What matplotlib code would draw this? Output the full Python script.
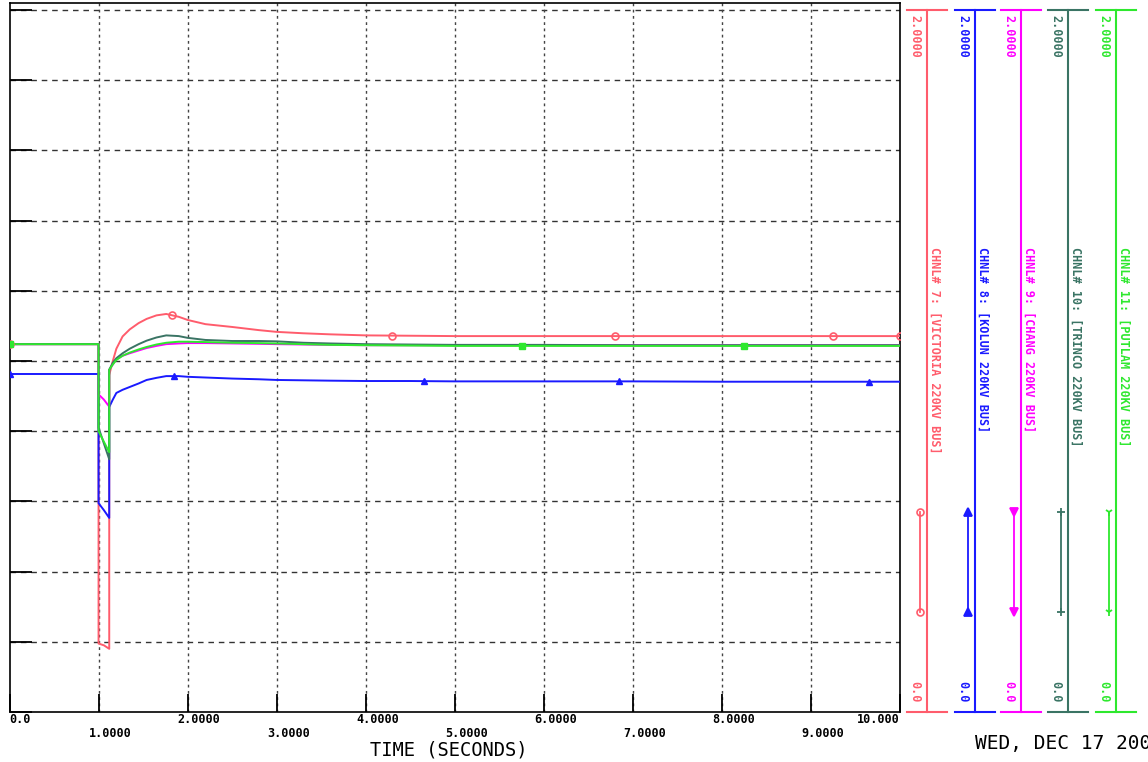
import numpy as np
import matplotlib
matplotlib.use('Agg')
import matplotlib.pyplot as plt

plt.rcParams['font.family'] = ['DejaVu Sans Mono', 'DejaVu Sans']

# time points (s), step changes written as repeated times
t = [0.0, 1.0, 1.0, 1.06, 1.12, 1.12, 1.16, 1.2, 1.27, 1.35, 1.45, 1.54, 1.65, 1.76, 1.9,
     2.0, 2.2, 2.5, 2.8, 3.0, 3.3, 3.6, 4.0, 4.5, 5.0, 6.0, 7.0, 8.0, 9.0, 10.0]

# bus voltages (pu)
v_ch7 = [1.048, 1.048, 0.195, 0.19, 0.18, 0.96, 1.0, 1.035, 1.07, 1.09, 1.108, 1.12, 1.13, 1.134, 1.126,
         1.117, 1.105, 1.097, 1.088, 1.083, 1.079, 1.076, 1.073, 1.072, 1.071, 1.071, 1.071, 1.071, 1.071, 1.071]
v_ch8 = [0.963, 0.963, 0.595, 0.575, 0.553, 0.869, 0.89, 0.909, 0.918, 0.926, 0.936, 0.946, 0.952, 0.957, 0.957,
         0.955, 0.953, 0.95, 0.948, 0.946, 0.945, 0.944, 0.943, 0.943, 0.942, 0.942, 0.942, 0.941, 0.941, 0.941]
v_ch9 = [1.048, 1.048, 0.905, 0.89, 0.87, 0.975, 0.99, 1.005, 1.015, 1.022, 1.03, 1.037, 1.043, 1.048, 1.05,
         1.051, 1.051, 1.05, 1.049, 1.048, 1.047, 1.046, 1.045, 1.045, 1.045, 1.045, 1.045, 1.045, 1.045, 1.045]
v_ch10 = [1.048, 1.048, 0.81, 0.765, 0.72, 0.975, 0.995, 1.008, 1.022, 1.035, 1.048, 1.058, 1.067, 1.073, 1.071,
          1.066, 1.06, 1.057, 1.057, 1.056, 1.052, 1.05, 1.048, 1.047, 1.046, 1.046, 1.045, 1.045, 1.045, 1.045]
v_ch11 = [1.048, 1.048, 0.80, 0.77, 0.74, 0.975, 0.99, 1.003, 1.015, 1.024, 1.033, 1.04, 1.047, 1.052, 1.055,
          1.055, 1.054, 1.052, 1.051, 1.05, 1.048, 1.046, 1.045, 1.044, 1.043, 1.043, 1.043, 1.043, 1.043, 1.043]

# symbol positions along each trace (s)
mk_ch7 = [0.0, 1.83, 4.3, 6.8, 9.25, 10.0]
mk_ch8 = [0.0, 1.85, 4.65, 6.85, 9.65]
mk_ch11 = [0.0, 5.75, 8.25]

labels = ['CHNL# 7: [VICTORIA 220KV BUS]', 'CHNL# 8: [KOLUN 220KV BUS]', 'CHNL# 9: [CHANG 220KV BUS]',
          'CHNL# 10: [TRINCO 220KV BUS]', 'CHNL# 11: [PUTLAM 220KV BUS]']
colors = ['#ff5c6c', '#1a1aff', '#ff00ff', '#3a7464', '#2ee82e']
symbols = ['o', '^', 'v', '+', '1']
xtick_labels = ['0.0', '1.0000', '2.0000', '3.0000', '4.0000', '5.0000',
                '6.0000', '7.0000', '8.0000', '9.0000', '10.000']

fig = plt.figure(figsize=(11.48, 7.62), dpi=100)
W, H = 1148, 762

# main plot
ax = fig.add_axes([9.5 / W, 50 / H, 890.5 / W, 709 / H])
ax.set_xlim(0, 10)
ax.set_ylim(0, 2.02)

series = [v_ch7, v_ch8, v_ch9, v_ch10, v_ch11]
for v, c in zip(series, colors):
    ax.plot(t, v, color=c, lw=1.4, zorder=3)

ax.plot(mk_ch7, np.interp(mk_ch7, t, v_ch7), ls='none', marker='o', ms=5, mfc='none',
        mec=colors[0], mew=1.2, zorder=4)
ax.plot(mk_ch8, np.interp(mk_ch8, t, v_ch8), ls='none', marker='^', ms=5, color=colors[1], zorder=4)
ax.plot(mk_ch11, np.interp(mk_ch11, t, v_ch11), ls='none', marker='s', ms=4, color=colors[4], zorder=4)

# grid
for yv in np.arange(0.2, 2.01, 0.2):
    ax.axhline(yv, color='#333333', lw=1.0, ls=(0, (4, 3.5)), zorder=1)
for xv in range(1, 10):
    ax.axvline(xv, color='#444444', lw=1.0, ls=(0, (2, 2.5)), zorder=1)

ax.set_xticks(range(11))
ax.set_yticks(np.arange(0, 2.01, 0.2))
ax.tick_params(axis='x', direction='in', length=13, width=1.3, color='black', labelbottom=False)
ax.tick_params(axis='y', direction='in', length=16, width=1.3, color='black', labelleft=False)
for s in ax.spines.values():
    s.set_linewidth(1.2)
    s.set_color('black')

# x tick labels in two staggered rows
for i, lab in enumerate(xtick_labels):
    row_y = -0.011 if i % 2 == 0 else -0.030
    if i == 0:
        x0, ha = 0, 'left'
    elif i == 10:
        x0, ha = 10, 'right'
    else:
        x0, ha = i - 0.11, 'left'
    ax.text(x0, row_y, lab, ha=ha, va='center', fontsize=8.5, fontweight='bold',
            transform=ax.get_xaxis_transform(), clip_on=False)

fig.text(449 / W, 1 - 750 / H, 'TIME (SECONDS)', ha='center', va='center', fontsize=13.5)
fig.text(975 / W, 1 - 743 / H, 'WED, DEC 17 2008', ha='left', va='center', fontsize=14)

# right-hand channel scales
ax2 = fig.add_axes([0, 0, 1, 1])
ax2.set_xlim(0, W)
ax2.set_ylim(H, 0)
ax2.axis('off')

axis_x = [927, 975, 1021, 1068, 1116]
for i, (xa, c, lab, sym) in enumerate(zip(axis_x, colors, labels, symbols)):
    ax2.plot([xa, xa], [10, 712], color=c, lw=1.5)
    ax2.plot([xa - 20, xa + 20], [10, 10], color=c, lw=1.5)
    ax2.plot([xa - 20, xa + 20], [712, 712], color=c, lw=1.5)
    ax2.text(xa - 12, 15, '2.0000', rotation=270, ha='center', va='top', color=c,
             fontsize=8.5, fontweight='bold')
    ax2.text(xa - 12, 702, '0.0', rotation=270, ha='center', va='bottom', color=c,
             fontsize=8.5, fontweight='bold')
    ax2.text(xa + 8, 247, lab, rotation=270, ha='center', va='top', color=c,
             fontsize=8.5, fontweight='bold')
    sx = xa - 7
    ax2.plot([sx, sx], [512, 612], color=c, lw=1.3)
    if sym == 'o':
        ax2.plot([sx, sx], [512, 612], ls='none', marker='o', ms=5, mfc='none', mec=c, mew=1.2)
    else:
        ax2.plot([sx, sx], [512, 612], ls='none', marker=sym, ms=6, color=c, mew=1.3)

fig.savefig('out.png', dpi=100)
